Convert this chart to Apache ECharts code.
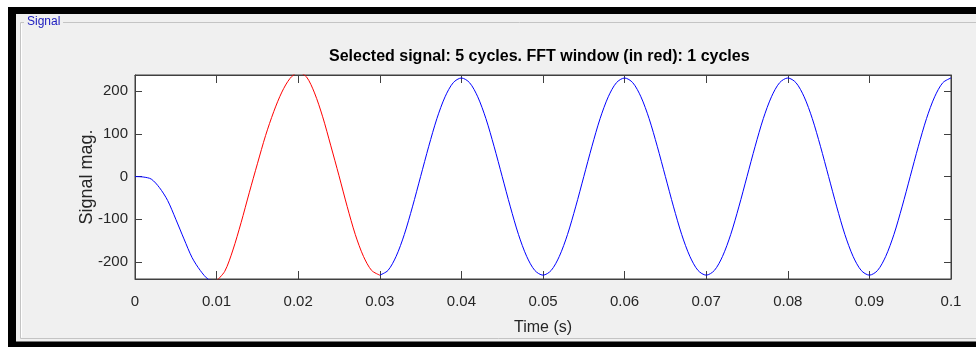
<!DOCTYPE html>
<html>
<head>
<meta charset="utf-8">
<title>Signal</title>
<script src="https://cdn.jsdelivr.net/npm/echarts@6/dist/echarts.min.js"></script>
<style>
  html, body { margin: 0; padding: 0; background: #fff; }
  #signalChart { width: 976px; height: 347px; }
</style>
</head>
<body>
<div id="signalChart"></div>
<script>
// Sample step of the signal (s)
var sampleStep = 0.001;

// Signal magnitude, one value per millisecond from 0 to 0.1 s
var signalValues = [
    0, -1, -6, -26, -56, -100, -146, -190, -220, -241,
    -244, -222, -172, -108, -38, 30, 96, 152, 198, 230,
    244, 234, 196, 140, 72, 2, -70, -136, -187, -220,
    -231, -220, -187, -136, -71, 0, 71, 136, 187, 220,
    231, 220, 187, 136, 71, 0, -71, -136, -187, -220,
    -231, -220, -187, -136, -71, 0, 71, 136, 187, 220,
    231, 220, 187, 136, 71, 0, -71, -136, -187, -220,
    -231, -220, -187, -136, -71, 0, 71, 136, 187, 220,
    231, 220, 187, 136, 71, 0, -71, -136, -187, -220,
    -231, -220, -187, -136, -71, 0, 71, 136, 187, 220,
    231
];

// FFT window (in red), sample indexes
var windowStart = 10;
var windowEnd = 30;

var xTicks = [0, 0.01, 0.02, 0.03, 0.04, 0.05, 0.06, 0.07, 0.08, 0.09, 0.1];
var yTicks = [-200, -100, 0, 100, 200];

var titleText = 'Selected signal: 5 cycles. FFT window (in red): 1 cycles';

document.addEventListener('DOMContentLoaded', function() {
    initSignalChart();
});

function initSignalChart() {
    var chartDom = document.getElementById('signalChart');
    var myChart = echarts.init(chartDom);

    var blueData = [];
    var redData = [];
    for (var i = 0; i < signalValues.length; i++) {
        var t = Math.round(i * sampleStep * 1000) / 1000;
        var inWindow = i >= windowStart && i <= windowEnd;
        var outside = i <= windowStart || i >= windowEnd;
        blueData.push(outside ? [t, signalValues[i]] : [t, null]);
        if (inWindow) redData.push([t, signalValues[i]]);
    }

    var font = 'Liberation Sans, Arial, Helvetica, sans-serif';
    var axisColor = '#404040';

    var option = {
        animation: false,
        backgroundColor: '#ffffff',
        textStyle: { fontFamily: font },
        title: {
            text: titleText,
            left: 329,
            top: 49,
            padding: 0,
            textStyle: { fontFamily: font, fontSize: 16, fontWeight: 'bold', color: '#000' }
        },
        // window frame and "Signal" group box
        graphic: [
            { type: 'rect', z: -10, shape: { x: 8, y: 7, width: 968, height: 340 }, style: { fill: '#000' } },
            { type: 'rect', z: -9, shape: { x: 16, y: 14, width: 960, height: 327.5 }, style: { fill: '#f0f0f0' } },
            { type: 'polyline', z: -8, shape: { points: [[63, 22.5], [976, 22.5]] }, style: { stroke: '#c4c4c4', lineWidth: 1 } },
            { type: 'polyline', z: -8, shape: { points: [[24, 22.5], [20.5, 22.5], [20.5, 338.5], [976, 338.5]] }, style: { stroke: '#c4c4c4', lineWidth: 1, fill: null } },
            { type: 'polyline', z: -8, shape: { points: [[21.5, 23.5], [21.5, 337.5]] }, style: { stroke: '#ffffff', lineWidth: 1 } },
            { type: 'text', z: -7, left: 27, top: 16, style: { text: 'Signal', fill: '#2020c0', font: '12px ' + font } }
        ],
        grid: {
            left: 135,
            right: 25,
            top: 75,
            bottom: 68,
            show: true,
            backgroundColor: '#ffffff',
            borderColor: axisColor,
            borderWidth: 1
        },
        xAxis: [{
            type: 'value',
            min: 0,
            max: 0.1,
            name: 'Time (s)',
            nameLocation: 'middle',
            nameGap: 41,
            nameMoveOverlap: false,
            nameTextStyle: { fontSize: 16, color: '#262626', fontFamily: font },
            axisLine: { onZero: false, lineStyle: { color: axisColor } },
            axisTick: { inside: true, length: 8, customValues: xTicks, lineStyle: { color: axisColor } },
            axisLabel: { customValues: xTicks, margin: 15, fontSize: 15, color: '#262626', fontFamily: font },
            splitLine: { show: false }
        }, {
            type: 'value',
            position: 'top',
            min: 0,
            max: 0.1,
            axisLine: { onZero: false, lineStyle: { color: axisColor } },
            axisTick: { inside: true, length: 8, customValues: xTicks, lineStyle: { color: axisColor } },
            axisLabel: { show: false },
            splitLine: { show: false }
        }],
        yAxis: [{
            type: 'value',
            min: -240,
            max: 238,
            name: 'Signal mag.',
            nameLocation: 'middle',
            nameGap: 39,
            nameMoveOverlap: false,
            nameTextStyle: { fontSize: 18, color: '#262626', fontFamily: font },
            axisLine: { show: true, onZero: false, lineStyle: { color: axisColor } },
            axisTick: { show: true, inside: true, length: 7, customValues: yTicks, lineStyle: { color: axisColor } },
            axisLabel: { customValues: yTicks, margin: 7, fontSize: 15, color: '#262626', fontFamily: font },
            splitLine: { show: false }
        }, {
            type: 'value',
            position: 'right',
            min: -240,
            max: 238,
            axisLine: { show: true, onZero: false, lineStyle: { color: axisColor } },
            axisTick: { show: true, inside: true, length: 7, customValues: yTicks, lineStyle: { color: axisColor } },
            axisLabel: { show: false },
            splitLine: { show: false }
        }],
        series: [{
            name: 'Signal',
            type: 'line',
            data: blueData,
            showSymbol: false,
            symbol: 'none',
            smooth: 0.3,
            connectNulls: false,
            clip: true,
            lineStyle: { color: '#0000ff', width: 1 }
        }, {
            name: 'FFT window',
            type: 'line',
            data: redData,
            showSymbol: false,
            symbol: 'none',
            smooth: 0.3,
            clip: true,
            lineStyle: { color: '#ff0000', width: 1 }
        }]
    };

    option && myChart.setOption(option);

    window.addEventListener('resize', function() {
        myChart.resize();
    });
}
</script>
</body>
</html>
